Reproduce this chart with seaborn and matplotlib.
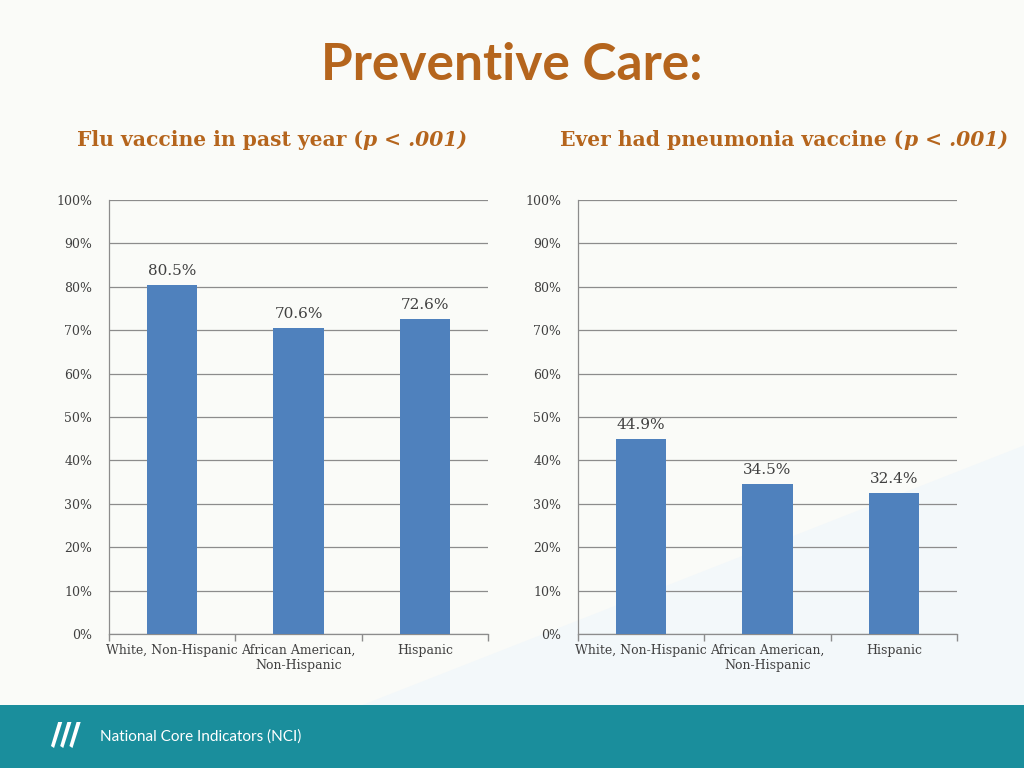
import matplotlib
matplotlib.use("Agg")
import matplotlib.pyplot as plt
import seaborn as sns
import pandas as pd
from matplotlib.patches import Polygon, Rectangle

categories = ["White, Non-Hispanic", "African American,\nNon-Hispanic", "Hispanic"]
flu_values = [80.5, 70.6, 72.6]
pneumonia_values = [44.9, 34.5, 32.4]
y_ticks = [0, 10, 20, 30, 40, 50, 60, 70, 80, 90, 100]
title = "Preventive Care:"
footer_text = "National Core Indicators (NCI)"

sns.set_theme(style="white")
plt.rcParams["font.family"] = ["DejaVu Serif"]

BAR = "#4F81BD"
ORANGE = "#B5651D"
GRID = "#8C8C8C"
TEXT = "#404040"
TEAL = "#1A8E9C"

fig = plt.figure(figsize=(10.24, 7.68), dpi=100)
fig.patch.set_facecolor("#FFFFFF")

# subtle background shapes
fig.patches.append(Rectangle((0, 0), 1, 1, transform=fig.transFigure, facecolor="#FAFBF8",
                             edgecolor="none", zorder=-10))
fig.patches.append(Polygon([(0.35, 0.08), (1.0, 0.42), (1.0, 0.08)], closed=True,
                           transform=fig.transFigure, facecolor="#F3F8FA", edgecolor="none", zorder=-9))

# footer band
fig.patches.append(Rectangle((0, 0), 1, 63 / 768, transform=fig.transFigure, facecolor=TEAL,
                             edgecolor="none", zorder=-5))
for dx in [0.0, 0.009, 0.018]:
    x0 = 52 / 1024 + dx
    fig.patches.append(Polygon([(x0 + 0.006, 1 - 722 / 768), (x0 + 0.010, 1 - 722 / 768),
                                (x0 + 0.002, 1 - 748 / 768), (x0 - 0.001, 1 - 746 / 768)],
                               closed=True, transform=fig.transFigure, facecolor="white",
                               edgecolor="none", zorder=-4))
fig.text(100 / 1024, 1 - 737 / 768, footer_text, color="white", fontsize=11,
         family=["Lato", "DejaVu Sans"], va="center", ha="left")

fig.text(0.5, 1 - 66 / 768, title, color=ORANGE, fontsize=37, fontweight="bold",
         family=["Lato", "DejaVu Sans"], ha="center", va="center")


def rich_subtitle(x_center, y, pieces):
    renderer = fig.canvas.get_renderer()
    texts = []
    widths = []
    for s, style in pieces:
        t = fig.text(0, y, s, color=ORANGE, fontsize=14.6, fontweight="bold", fontstyle=style,
                     family=["DejaVu Serif"], ha="left", va="center")
        bb = t.get_window_extent(renderer=renderer)
        texts.append(t)
        widths.append(bb.width / fig.bbox.width)
    total = sum(widths)
    x = x_center - total / 2
    for t, w in zip(texts, widths):
        t.set_x(x)
        x += w


axes_specs = [
    (109 / 1024, flu_values, [("Flu vaccine in past year (", "normal"), ("p < .001)", "italic")], 272 / 1024),
    (578 / 1024, pneumonia_values, [("Ever had pneumonia vaccine (", "normal"), ("p < .001)", "italic")], 784 / 1024),
]

for left, values, sub, xc in axes_specs:
    ax = fig.add_axes([left, 1 - 634 / 768, 379 / 1024, 434 / 768])
    ax.set_facecolor("none")
    df = pd.DataFrame({"cat": categories, "val": values})
    sns.barplot(data=df, x="cat", y="val", color=BAR, width=0.4, saturation=1, ax=ax,
                edgecolor="none", linewidth=0, zorder=3)
    for c in ax.containers:
        ax.bar_label(c, labels=[f"{v:.1f}%" for v in values], padding=5, fontsize=11, color=TEXT)
    ax.set_ylim(0, 100)
    ax.set_xlim(-0.5, 2.5)
    ax.set_yticks(y_ticks)
    ax.set_yticklabels([f"{v}%" for v in y_ticks], fontsize=9, color=TEXT)
    ax.tick_params(axis="y", length=0, pad=12)
    ax.set_xticks(range(3))
    ax.set_xticklabels(categories, fontsize=9, color=TEXT, linespacing=1.2)
    ax.tick_params(axis="x", which="major", length=0, pad=7)
    ax.set_xticks([-0.5, 0.5, 1.5, 2.5], minor=True)
    ax.tick_params(axis="x", which="minor", length=5, color=GRID, width=1, direction="out", bottom=True)
    ax.yaxis.grid(True, color=GRID, linewidth=0.9, zorder=0)
    ax.set_axisbelow(True)
    ax.set_xlabel("")
    ax.set_ylabel("")
    for s in ["top", "right"]:
        ax.spines[s].set_visible(False)
    for s in ["left", "bottom"]:
        ax.spines[s].set_color(GRID)
        ax.spines[s].set_linewidth(0.9)
    rich_subtitle(xc, 1 - 140 / 768, sub)

fig.savefig("out.png", dpi=100)
